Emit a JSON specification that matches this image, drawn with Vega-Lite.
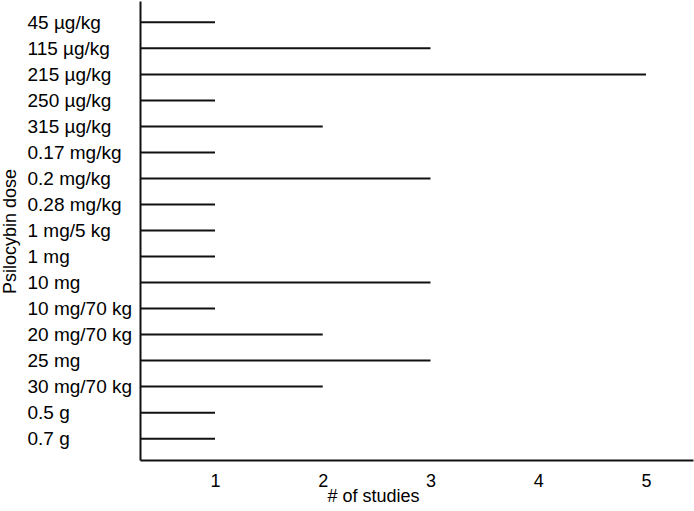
{
  "$schema": "https://vega.github.io/schema/vega-lite/v6.json",
  "autosize": {"type": "none"},
  "width": 553,
  "height": 459,
  "padding": {"left": 140, "top": 1, "right": 1, "bottom": 51},
  "background": "white",
  "config": {"view": {"stroke": null}, "font": "Liberation Sans"},
  "data": {"values": [
    {"dose": "45 µg/kg", "studies": 1},
    {"dose": "115 µg/kg", "studies": 3},
    {"dose": "215 µg/kg", "studies": 5},
    {"dose": "250 µg/kg", "studies": 1},
    {"dose": "315 µg/kg", "studies": 2},
    {"dose": "0.17 mg/kg", "studies": 1},
    {"dose": "0.2 mg/kg", "studies": 3},
    {"dose": "0.28 mg/kg", "studies": 1},
    {"dose": "1 mg/5 kg", "studies": 1},
    {"dose": "1 mg", "studies": 1},
    {"dose": "10 mg", "studies": 3},
    {"dose": "10 mg/70 kg", "studies": 1},
    {"dose": "20 mg/70 kg", "studies": 2},
    {"dose": "25 mg", "studies": 3},
    {"dose": "30 mg/70 kg", "studies": 2},
    {"dose": "0.5 g", "studies": 1},
    {"dose": "0.7 g", "studies": 1}
  ]},
  "mark": {"type": "rule", "color": "#111111", "strokeWidth": 2, "clip": true},
  "encoding": {
    "y": {
      "field": "dose", "type": "nominal", "sort": null,
      "scale": {"type": "point", "padding": 0.82},
      "axis": {
        "title": "Psilocybin dose",
        "titleFontSize": 18, "titleFontWeight": "normal", "titleColor": "black",
        "titleAngle": -90, "titleX": -125, "titleY": 230, "titleAlign": "center", "titleBaseline": "alphabetic",
        "labelFontSize": 19, "labelColor": "black", "labelAlign": "left", "labelPadding": 113,
        "ticks": false, "domainColor": "#111111", "domainWidth": 2, "grid": false
      }
    },
    "x": {"field": "studies", "type": "quantitative",
      "scale": {"domain": [0.304, 5.436], "nice": false, "zero": false},
      "axis": {
        "title": "# of studies", "values": [1, 2, 3, 4, 5],
        "titleFontSize": 18, "titleFontWeight": "normal", "titleColor": "black",
        "titleX": 233, "titleY": 41, "titleAlign": "center", "titleBaseline": "alphabetic",
        "labelFontSize": 18, "labelColor": "black", "labelPadding": 26, "labelBaseline": "alphabetic",
        "ticks": false, "domainColor": "#111111", "domainWidth": 2, "grid": false
      }
    },
    "x2": {"datum": 0}
  }
}
